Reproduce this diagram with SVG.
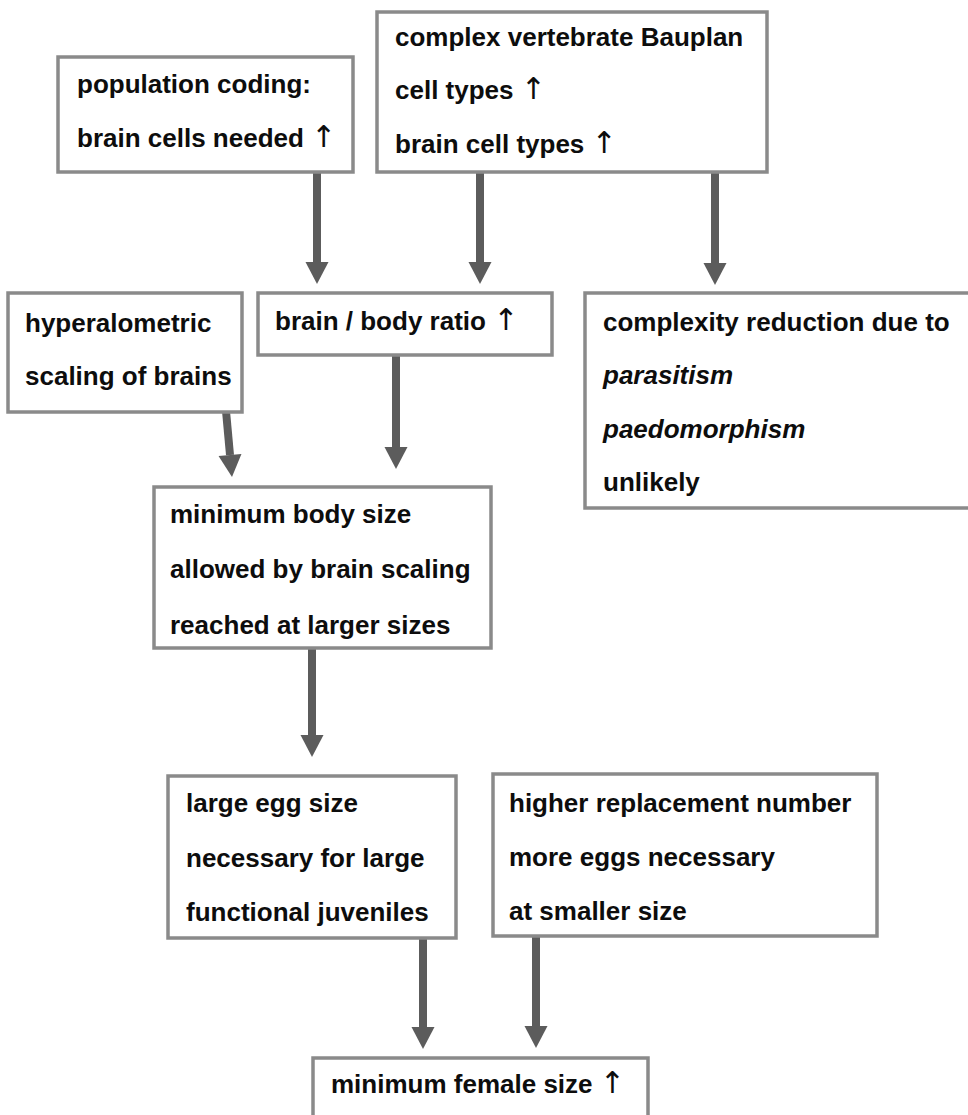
<svg xmlns="http://www.w3.org/2000/svg" width="968" height="1115" viewBox="0 0 968 1115">
  <style>
    .box { fill: #ffffff; stroke: #8a8a8a; stroke-width: 3.5; }
    .t { font-family: "Liberation Sans", Arial, sans-serif; font-weight: bold; font-size: 26px; fill: #0d0d0d; }
    .i { font-style: italic; }
    .up { font-family: "DejaVu Sans", sans-serif; font-weight: normal; font-size: 30px; fill: #0d0d0d; }
    .conn { stroke: #5c5c5c; stroke-width: 8; fill: none; marker-end: url(#head); }
  </style>
  <defs>
    <marker id="head" markerUnits="userSpaceOnUse" markerWidth="24" markerHeight="26" refX="0" refY="12" orient="auto" viewBox="0 0 24 24" overflow="visible">
      <path d="M0,0.5 L22,12 L0,23.5 Z" fill="#5c5c5c"/>
    </marker>
  </defs>
  <rect width="968" height="1115" fill="#ffffff"/>

  <g id="connectors">
    <line class="conn" x1="317" y1="172" x2="317" y2="262"/>
    <line class="conn" x1="480" y1="172" x2="480" y2="262"/>
    <line class="conn" x1="715" y1="172" x2="715" y2="263"/>
    <line class="conn" x1="226" y1="411" x2="230" y2="455"/>
    <line class="conn" x1="396" y1="355" x2="396" y2="447"/>
    <line class="conn" x1="312" y1="648" x2="312" y2="735"/>
    <line class="conn" x1="423" y1="938" x2="423" y2="1027"/>
    <line class="conn" x1="536" y1="936" x2="536" y2="1026"/>
  </g>

  <g id="population-coding">
    <rect class="box" x="58" y="57" width="295" height="115"/>
    <text class="t" x="77" y="93">population coding:</text>
    <text class="t" x="77" y="147">brain cells needed <tspan class="up">↑</tspan></text>
  </g>

  <g id="vertebrate-bauplan">
    <rect class="box" x="377" y="12" width="390" height="160"/>
    <text class="t" x="395" y="46">complex vertebrate Bauplan</text>
    <text class="t" x="395" y="99">cell types <tspan class="up">↑</tspan></text>
    <text class="t" x="395" y="153">brain cell types <tspan class="up">↑</tspan></text>
  </g>

  <g id="hyperalometric">
    <rect class="box" x="8" y="293" width="234" height="119"/>
    <text class="t" x="25" y="332">hyperalometric</text>
    <text class="t" x="25" y="385">scaling of brains</text>
  </g>

  <g id="brain-body-ratio">
    <rect class="box" x="258" y="293" width="294" height="62"/>
    <text class="t" x="275" y="330">brain / body ratio <tspan class="up">↑</tspan></text>
  </g>

  <g id="complexity-reduction">
    <rect class="box" x="585" y="293" width="390" height="215"/>
    <text class="t" x="603" y="331">complexity reduction due to</text>
    <text class="t i" x="603" y="384">parasitism</text>
    <text class="t i" x="603" y="438">paedomorphism</text>
    <text class="t" x="603" y="491">unlikely</text>
  </g>

  <g id="minimum-body-size">
    <rect class="box" x="154" y="487" width="337" height="161"/>
    <text class="t" x="170" y="523">minimum body size</text>
    <text class="t" x="170" y="578">allowed by brain scaling</text>
    <text class="t" x="170" y="634">reached at larger sizes</text>
  </g>

  <g id="large-egg-size">
    <rect class="box" x="168" y="776" width="288" height="162"/>
    <text class="t" x="186" y="812">large egg size</text>
    <text class="t" x="186" y="867">necessary for large</text>
    <text class="t" x="186" y="921">functional juveniles</text>
  </g>

  <g id="replacement-number">
    <rect class="box" x="493" y="774" width="384" height="162"/>
    <text class="t" x="509" y="812">higher replacement number</text>
    <text class="t" x="509" y="866">more eggs necessary</text>
    <text class="t" x="509" y="920">at smaller size</text>
  </g>

  <g id="minimum-female-size">
    <rect class="box" x="313" y="1058" width="335" height="70"/>
    <text class="t" x="331" y="1093">minimum female size <tspan class="up">↑</tspan></text>
  </g>
</svg>
